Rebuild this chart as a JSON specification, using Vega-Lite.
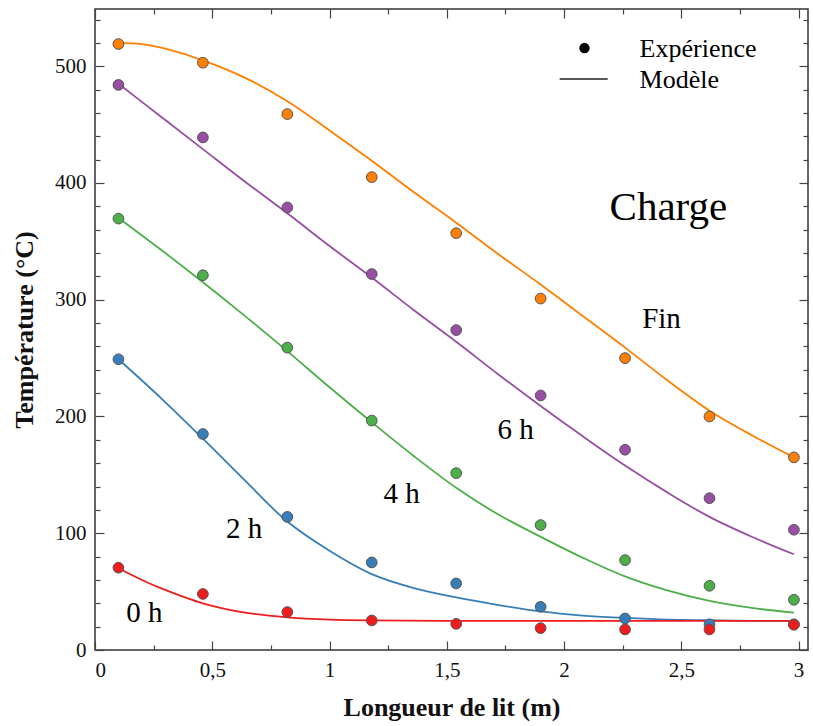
{
  "$schema": "https://vega.github.io/schema/vega-lite/v6.json",
  "width": 713,
  "height": 641,
  "autosize": {"type": "none"},
  "padding": {"left": 95, "top": 9, "right": 5, "bottom": 76},
  "background": "white",
  "config": {
    "font": "Liberation Serif",
    "text": {"font": "Liberation Serif"},
    "view": {"stroke": "#333", "strokeWidth": 1.5},
    "axis": {"grid": false, "domain": false, "labelFont": "Liberation Serif", "labelFontSize": 21, "labelColor": "#111", "tickColor": "#444", "tickWidth": 1.2, "titleFont": "Liberation Serif", "titleFontSize": 26, "titleFontWeight": "bold", "titleColor": "#111"}
  },
  "datasets": {
    "model": [
      {"serie": "Fin", "x": 0.10, "y": 520}, {"serie": "Fin", "x": 0.20, "y": 519}, {"serie": "Fin", "x": 0.30, "y": 515}, {"serie": "Fin", "x": 0.46, "y": 505}, {"serie": "Fin", "x": 0.64, "y": 490}, {"serie": "Fin", "x": 0.82, "y": 470}, {"serie": "Fin", "x": 1.00, "y": 445}, {"serie": "Fin", "x": 1.18, "y": 419}, {"serie": "Fin", "x": 1.36, "y": 392}, {"serie": "Fin", "x": 1.54, "y": 366}, {"serie": "Fin", "x": 1.72, "y": 339}, {"serie": "Fin", "x": 1.90, "y": 313}, {"serie": "Fin", "x": 2.08, "y": 286}, {"serie": "Fin", "x": 2.26, "y": 259}, {"serie": "Fin", "x": 2.44, "y": 231}, {"serie": "Fin", "x": 2.62, "y": 205}, {"serie": "Fin", "x": 2.80, "y": 184}, {"serie": "Fin", "x": 2.98, "y": 165},
      {"serie": "6 h", "x": 0.10, "y": 485}, {"serie": "6 h", "x": 0.28, "y": 457}, {"serie": "6 h", "x": 0.46, "y": 429}, {"serie": "6 h", "x": 0.64, "y": 401}, {"serie": "6 h", "x": 0.82, "y": 374}, {"serie": "6 h", "x": 1.00, "y": 346}, {"serie": "6 h", "x": 1.18, "y": 319}, {"serie": "6 h", "x": 1.36, "y": 291}, {"serie": "6 h", "x": 1.54, "y": 264}, {"serie": "6 h", "x": 1.72, "y": 236}, {"serie": "6 h", "x": 1.90, "y": 209}, {"serie": "6 h", "x": 2.08, "y": 183}, {"serie": "6 h", "x": 2.26, "y": 158}, {"serie": "6 h", "x": 2.44, "y": 135}, {"serie": "6 h", "x": 2.62, "y": 114}, {"serie": "6 h", "x": 2.80, "y": 97}, {"serie": "6 h", "x": 2.98, "y": 82},
      {"serie": "4 h", "x": 0.10, "y": 370}, {"serie": "4 h", "x": 0.28, "y": 343}, {"serie": "4 h", "x": 0.46, "y": 315}, {"serie": "4 h", "x": 0.64, "y": 286}, {"serie": "4 h", "x": 0.82, "y": 256}, {"serie": "4 h", "x": 1.00, "y": 225}, {"serie": "4 h", "x": 1.18, "y": 195}, {"serie": "4 h", "x": 1.36, "y": 166}, {"serie": "4 h", "x": 1.54, "y": 139}, {"serie": "4 h", "x": 1.72, "y": 116}, {"serie": "4 h", "x": 1.90, "y": 97}, {"serie": "4 h", "x": 2.08, "y": 79}, {"serie": "4 h", "x": 2.26, "y": 63}, {"serie": "4 h", "x": 2.44, "y": 51}, {"serie": "4 h", "x": 2.62, "y": 42}, {"serie": "4 h", "x": 2.80, "y": 36}, {"serie": "4 h", "x": 2.98, "y": 32},
      {"serie": "2 h", "x": 0.10, "y": 249}, {"serie": "2 h", "x": 0.28, "y": 216}, {"serie": "2 h", "x": 0.46, "y": 181}, {"serie": "2 h", "x": 0.64, "y": 145}, {"serie": "2 h", "x": 0.82, "y": 110}, {"serie": "2 h", "x": 1.00, "y": 85}, {"serie": "2 h", "x": 1.18, "y": 65}, {"serie": "2 h", "x": 1.36, "y": 53}, {"serie": "2 h", "x": 1.54, "y": 45}, {"serie": "2 h", "x": 1.72, "y": 38.5}, {"serie": "2 h", "x": 1.90, "y": 33}, {"serie": "2 h", "x": 2.08, "y": 29.5}, {"serie": "2 h", "x": 2.26, "y": 27.5}, {"serie": "2 h", "x": 2.44, "y": 26}, {"serie": "2 h", "x": 2.62, "y": 25.5}, {"serie": "2 h", "x": 2.80, "y": 25}, {"serie": "2 h", "x": 2.98, "y": 25},
      {"serie": "0 h", "x": 0.10, "y": 70}, {"serie": "0 h", "x": 0.20, "y": 60}, {"serie": "0 h", "x": 0.28, "y": 53}, {"serie": "0 h", "x": 0.46, "y": 40}, {"serie": "0 h", "x": 0.64, "y": 32}, {"serie": "0 h", "x": 0.82, "y": 28}, {"serie": "0 h", "x": 1.00, "y": 26}, {"serie": "0 h", "x": 1.18, "y": 25.3}, {"serie": "0 h", "x": 1.54, "y": 25}, {"serie": "0 h", "x": 2.00, "y": 25}, {"serie": "0 h", "x": 2.50, "y": 25}, {"serie": "0 h", "x": 2.98, "y": 25}
    ],
    "exp": [
      {"serie": "Fin", "x": 0.10, "y": 519}, {"serie": "Fin", "x": 0.46, "y": 503}, {"serie": "Fin", "x": 0.82, "y": 459}, {"serie": "Fin", "x": 1.18, "y": 405}, {"serie": "Fin", "x": 1.54, "y": 357}, {"serie": "Fin", "x": 1.90, "y": 301}, {"serie": "Fin", "x": 2.26, "y": 250}, {"serie": "Fin", "x": 2.62, "y": 200}, {"serie": "Fin", "x": 2.98, "y": 165},
      {"serie": "6 h", "x": 0.10, "y": 484}, {"serie": "6 h", "x": 0.46, "y": 439}, {"serie": "6 h", "x": 0.82, "y": 379}, {"serie": "6 h", "x": 1.18, "y": 322}, {"serie": "6 h", "x": 1.54, "y": 274}, {"serie": "6 h", "x": 1.90, "y": 218}, {"serie": "6 h", "x": 2.26, "y": 171.5}, {"serie": "6 h", "x": 2.62, "y": 130}, {"serie": "6 h", "x": 2.98, "y": 103},
      {"serie": "4 h", "x": 0.10, "y": 369.5}, {"serie": "4 h", "x": 0.46, "y": 321}, {"serie": "4 h", "x": 0.82, "y": 259}, {"serie": "4 h", "x": 1.18, "y": 196.5}, {"serie": "4 h", "x": 1.54, "y": 151.5}, {"serie": "4 h", "x": 1.90, "y": 107}, {"serie": "4 h", "x": 2.26, "y": 77}, {"serie": "4 h", "x": 2.62, "y": 55}, {"serie": "4 h", "x": 2.98, "y": 43},
      {"serie": "2 h", "x": 0.10, "y": 249}, {"serie": "2 h", "x": 0.46, "y": 185}, {"serie": "2 h", "x": 0.82, "y": 114}, {"serie": "2 h", "x": 1.18, "y": 75}, {"serie": "2 h", "x": 1.54, "y": 57}, {"serie": "2 h", "x": 1.90, "y": 37}, {"serie": "2 h", "x": 2.26, "y": 27}, {"serie": "2 h", "x": 2.62, "y": 22}, {"serie": "2 h", "x": 2.98, "y": 22},
      {"serie": "0 h", "x": 0.10, "y": 70.5}, {"serie": "0 h", "x": 0.46, "y": 48}, {"serie": "0 h", "x": 0.82, "y": 32.5}, {"serie": "0 h", "x": 1.18, "y": 25.3}, {"serie": "0 h", "x": 1.54, "y": 22.4}, {"serie": "0 h", "x": 1.90, "y": 18.7}, {"serie": "0 h", "x": 2.26, "y": 17.6}, {"serie": "0 h", "x": 2.62, "y": 17.6}, {"serie": "0 h", "x": 2.98, "y": 21.6}
    ],
    "labels": [
      {"label": "Charge", "x": 2.194, "y": 368},
      {"label": "Fin", "x": 2.333, "y": 275.5},
      {"label": "6 h", "x": 1.716, "y": 181},
      {"label": "4 h", "x": 1.230, "y": 126},
      {"label": "2 h", "x": 0.559, "y": 96},
      {"label": "0 h", "x": 0.133, "y": 24}
    ]
  },
  "resolve": {"axis": {"x": "independent", "y": "independent"}},
  "layer": [
    {
      "data": {"name": "model"},
      "mark": {"type": "line", "interpolate": "catmull-rom", "strokeWidth": 1.8},
      "encoding": {
        "x": {"field": "x", "type": "quantitative", "scale": {"domain": [0, 3.04], "nice": false, "zero": false},
          "axis": {"orient": "bottom", "values": [0, 0.5, 1, 1.5, 2, 2.5, 3], "format": "~g", "labelExpr": "replace(datum.label, '.', ',')", "tickSize": -9, "labelPadding": 18, "title": "Longueur de lit (m)", "titlePadding": 14}},
        "y": {"field": "y", "type": "quantitative", "scale": {"domain": [0, 549], "nice": false},
          "axis": {"orient": "left", "values": [0, 100, 200, 300, 400, 500], "tickSize": -9, "labelPadding": 18, "title": "Température (°C)", "titlePadding": 17}},
        "color": {"field": "serie", "type": "nominal", "legend": null,
          "scale": {"domain": ["Fin", "6 h", "4 h", "2 h", "0 h"], "range": ["#ff7f00", "#984ea3", "#4daf4a", "#377eb8", "#ee1c1c"]}}
      }
    },
    {
      "data": {"name": "exp"},
      "mark": {"type": "point", "filled": true, "shape": "circle", "size": 115, "opacity": 1, "stroke": "#555", "strokeWidth": 1},
      "encoding": {
        "x": {"field": "x", "type": "quantitative",
          "axis": {"orient": "bottom", "values": [0.25, 0.75, 1.25, 1.75, 2.25, 2.75], "tickSize": -5, "labels": false, "title": null}},
        "y": {"field": "y", "type": "quantitative",
          "axis": {"orient": "left", "values": [20, 40, 60, 80, 120, 140, 160, 180, 220, 240, 260, 280, 320, 340, 360, 380, 420, 440, 460, 480, 520, 540], "tickSize": -5, "labels": false, "title": null}},
        "color": {"field": "serie", "type": "nominal", "legend": null}
      }
    },
    {
      "data": {"name": "labels"},
      "mark": {"type": "text", "align": "left", "baseline": "alphabetic", "font": "Liberation Serif", "color": "#000"},
      "encoding": {
        "x": {"field": "x", "type": "quantitative",
          "axis": {"orient": "top", "values": [0, 0.5, 1, 1.5, 2, 2.5, 3], "tickSize": -9, "labels": false, "title": null}},
        "y": {"field": "y", "type": "quantitative",
          "axis": {"orient": "right", "values": [0, 100, 200, 300, 400, 500], "tickSize": -9, "labels": false, "title": null}},
        "text": {"field": "label"},
        "size": {"condition": {"test": "datum.label === 'Charge'", "value": 41}, "value": 29}
      }
    },
    {
      "data": {"values": [{}]},
      "mark": {"type": "rule", "color": "#222", "strokeWidth": 1.5},
      "encoding": {
        "x": {"datum": 1.981, "type": "quantitative",
          "axis": {"orient": "top", "values": [0.25, 0.75, 1.25, 1.75, 2.25, 2.75], "tickSize": -5, "labels": false, "title": null}},
        "x2": {"datum": 2.186},
        "y": {"datum": 489, "type": "quantitative",
          "axis": {"orient": "right", "values": [20, 40, 60, 80, 120, 140, 160, 180, 220, 240, 260, 280, 320, 340, 360, 380, 420, 440, 460, 480, 520, 540], "tickSize": -5, "labels": false, "title": null}}
      }
    },
    {
      "data": {"values": [{}]},
      "mark": {"type": "point", "filled": true, "shape": "circle", "size": 110, "color": "#000", "opacity": 1},
      "encoding": {
        "x": {"datum": 2.087, "type": "quantitative", "axis": null},
        "y": {"datum": 515.5, "type": "quantitative", "axis": null}
      }
    },
    {
      "data": {"values": [{}]},
      "mark": {"type": "text", "align": "left", "baseline": "alphabetic", "font": "Liberation Serif", "fontSize": 26, "color": "#000", "text": "Expérience"},
      "encoding": {
        "x": {"datum": 2.322, "type": "quantitative", "axis": null},
        "y": {"datum": 507.7, "type": "quantitative", "axis": null}
      }
    },
    {
      "data": {"values": [{}]},
      "mark": {"type": "text", "align": "left", "baseline": "alphabetic", "font": "Liberation Serif", "fontSize": 26, "color": "#000", "text": "Modèle"},
      "encoding": {
        "x": {"datum": 2.322, "type": "quantitative", "axis": null},
        "y": {"datum": 481.2, "type": "quantitative", "axis": null}
      }
    }
  ]
}
